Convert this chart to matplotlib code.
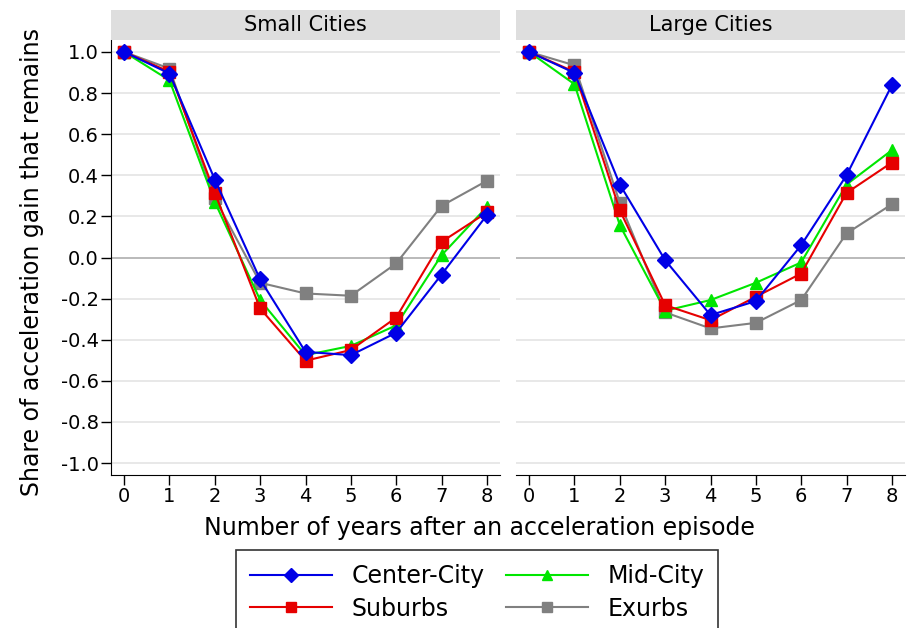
import numpy as np
import matplotlib
matplotlib.use('Agg')
import matplotlib.pyplot as plt
from matplotlib.patches import Rectangle

years = [0, 1, 2, 3, 4, 5, 6, 7, 8]
panels = ['Small Cities', 'Large Cities']
series = ['Center-City', 'Suburbs', 'Mid-City', 'Exurbs']
ytick_vals = [-1.0, -0.8, -0.6, -0.4, -0.2, 0.0, 0.2, 0.4, 0.6, 0.8, 1.0]
ytick_labels = ['-1.0', '-0.8', '-0.6', '-0.4', '-0.2', '0.0', '0.2', '0.4', '0.6', '0.8', '1.0']

small_center = [1.0, 0.895, 0.379, -0.107, -0.459, -0.475, -0.366, -0.083, 0.206]
small_mid = [1.0, 0.862, 0.270, -0.207, -0.475, -0.430, -0.330, 0.011, 0.246]
small_suburbs = [1.0, 0.903, 0.314, -0.248, -0.502, -0.450, -0.292, 0.076, 0.219]
small_exurbs = [1.0, 0.919, 0.287, -0.123, -0.175, -0.186, -0.029, 0.251, 0.373]

large_center = [1.0, 0.898, 0.355, -0.013, -0.280, -0.212, 0.060, 0.400, 0.838]
large_mid = [1.0, 0.843, 0.157, -0.259, -0.207, -0.123, -0.024, 0.355, 0.522]
large_suburbs = [1.0, 0.903, 0.230, -0.232, -0.305, -0.191, -0.078, 0.314, 0.462]
large_exurbs = [1.0, 0.935, 0.266, -0.267, -0.345, -0.318, -0.207, 0.117, 0.259]

data = {
    'Small Cities': {'Center-City': small_center, 'Mid-City': small_mid,
                     'Suburbs': small_suburbs, 'Exurbs': small_exurbs},
    'Large Cities': {'Center-City': large_center, 'Mid-City': large_mid,
                     'Suburbs': large_suburbs, 'Exurbs': large_exurbs},
}

# drawing order: gray at back, blue on top
draw_order = ['Exurbs', 'Mid-City', 'Suburbs', 'Center-City']
styles = {
    'Center-City': dict(color='#0000e6', marker='D', ms=8),
    'Suburbs': dict(color='#e60000', marker='s', ms=8),
    'Mid-City': dict(color='#00e600', marker='^', ms=8),
    'Exurbs': dict(color='#808080', marker='s', ms=8),
}

fig = plt.figure(figsize=(9.1, 6.28), dpi=100)
W, H = 910.0, 628.0
lefts = [111, 516]
pw = 389
top_px, bot_px = 40, 475

handles = {}
for i, name in enumerate(panels):
    ax = fig.add_axes([lefts[i] / W, 1 - bot_px / H, pw / W, (bot_px - top_px) / H])
    for yv in ytick_vals:
        if yv == 0.0:
            ax.axhline(0, color='#b4b4b4', lw=1.3, zorder=1)
        else:
            ax.axhline(yv, color='#e6e6e6', lw=1.3, zorder=1)
    for s in draw_order:
        st = styles[s]
        h, = ax.plot(years, data[name][s], color=st['color'], marker=st['marker'],
                     ms=st['ms'], lw=1.5, zorder=3)
        handles[s] = h
    ax.set_xlim(-0.29, 8.29)
    ax.set_ylim(-1.058, 1.058)
    ax.set_xticks(years)
    ax.set_yticks(ytick_vals)
    ax.set_yticklabels(ytick_labels)
    ax.tick_params(axis='both', labelsize=14, length=7, width=1, direction='out', pad=2)
    for sp in ['top', 'right']:
        ax.spines[sp].set_visible(False)
    if i == 1:
        ax.spines['left'].set_visible(False)
        ax.tick_params(axis='y', left=False, labelleft=False)
    # strip header
    fig.patches.append(Rectangle((lefts[i] / W, 1 - 40 / H), pw / W, 30 / H,
                                 transform=fig.transFigure, facecolor='#dedede',
                                 edgecolor='none', zorder=0))
    fig.text((lefts[i] + pw / 2) / W, 1 - 25 / H, name, ha='center', va='center',
             fontsize=15)

fig.text(32 / W, 1 - 262 / H, 'Share of acceleration gain that remains',
         rotation=90, ha='center', va='center', fontsize=17)
fig.text(479 / W, 1 - 528 / H, 'Number of years after an acceleration episode',
         ha='center', va='center', fontsize=17)

leg = fig.legend([handles[s] for s in series], series, ncol=2,
                 loc='upper center', bbox_to_anchor=(477 / W, 1 - 550 / H),
                 fontsize=17, frameon=True, fancybox=False, edgecolor='black',
                 handlelength=3.5, columnspacing=0.9, borderpad=0.6,
                 labelspacing=0.36, handletextpad=0.8, borderaxespad=0,
                 markerscale=0.9)
leg.get_frame().set_linewidth(1.2)

fig.savefig('out.png', dpi=100)
